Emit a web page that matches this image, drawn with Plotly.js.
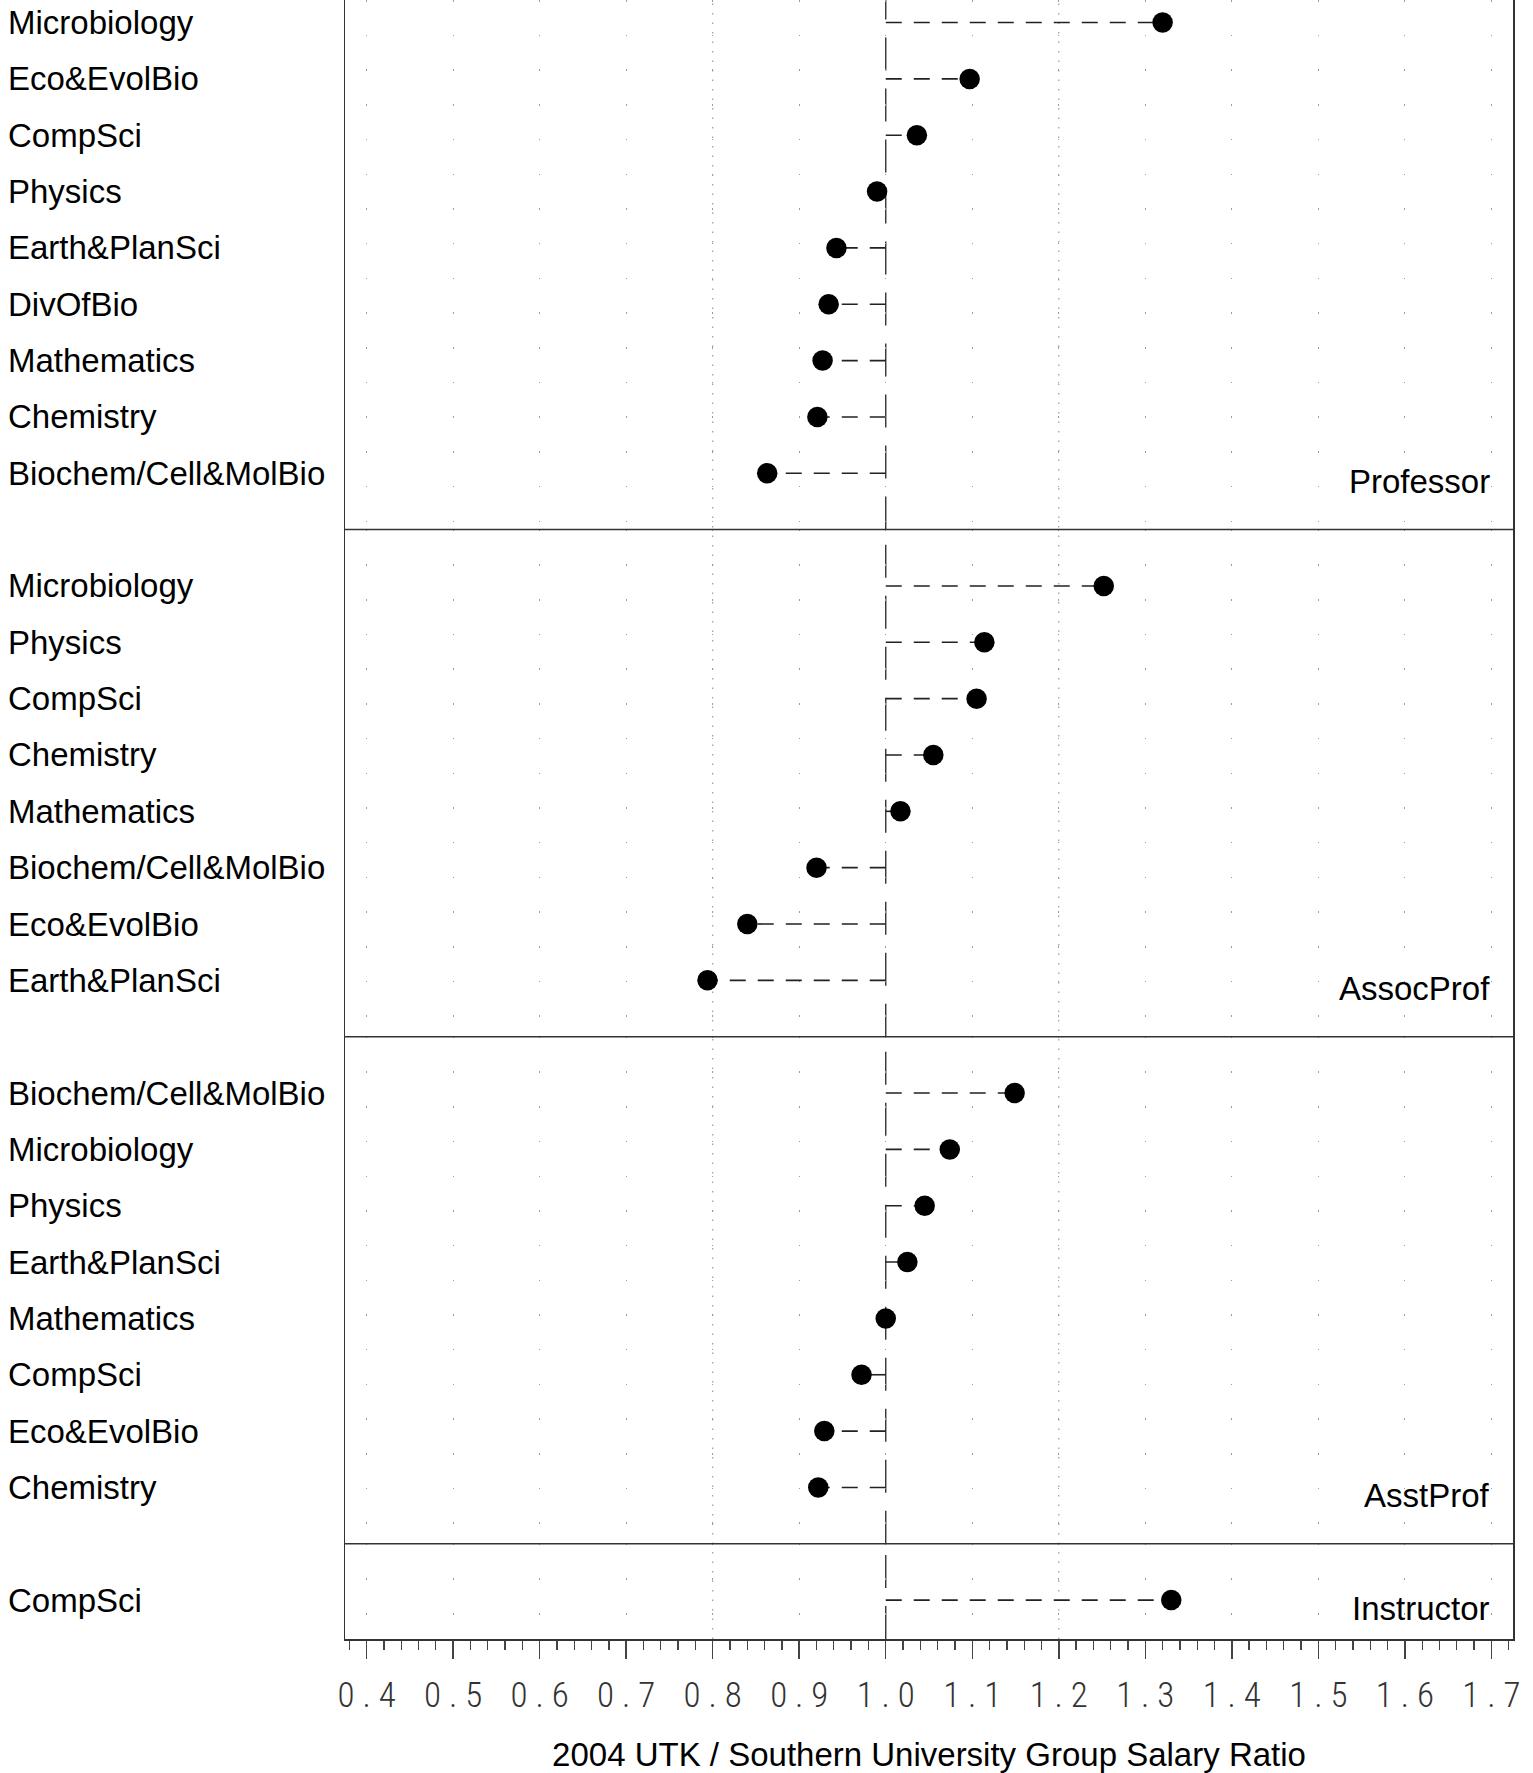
<!DOCTYPE html>
<html>
<head>
<meta charset="utf-8">
<script src="https://cdn.plot.ly/plotly-3.0.1.min.js"></script>
<style>html,body{margin:0;padding:0;background:#fff}</style>
</head>
<body>
<div id="chart" style="width:1533px;height:1773px"></div>
<script>
// ---- data ----
const panelNames = ["Professor", "AssocProf", "AsstProf", "Instructor"];

const professorDepts = ["Microbiology", "Eco&EvolBio", "CompSci", "Physics", "Earth&PlanSci",
  "DivOfBio", "Mathematics", "Chemistry", "Biochem/Cell&MolBio"];
const professorRatio = [1.320, 1.097, 1.036, 0.990, 0.943, 0.934, 0.927, 0.921, 0.863];

const assocProfDepts = ["Microbiology", "Physics", "CompSci", "Chemistry", "Mathematics",
  "Biochem/Cell&MolBio", "Eco&EvolBio", "Earth&PlanSci"];
const assocProfRatio = [1.252, 1.114, 1.105, 1.055, 1.017, 0.920, 0.840, 0.794];

const asstProfDepts = ["Biochem/Cell&MolBio", "Microbiology", "Physics", "Earth&PlanSci",
  "Mathematics", "CompSci", "Eco&EvolBio", "Chemistry"];
const asstProfRatio = [1.149, 1.074, 1.045, 1.025, 1.000, 0.972, 0.929, 0.922];

const instructorDepts = ["CompSci"];
const instructorRatio = [1.330];

const referenceRatio = 1.0;
const xTickValues = [0.4, 0.5, 0.6, 0.7, 0.8, 0.9, 1.0, 1.1, 1.2, 1.3, 1.4, 1.5, 1.6, 1.7];
const xTickLabels = ["0 . 4", "0 . 5", "0 . 6", "0 . 7", "0 . 8", "0 . 9", "1 . 0",
  "1 . 1", "1 . 2", "1 . 3", "1 . 4", "1 . 5", "1 . 6", "1 . 7"];
const xTitle = "2004 UTK / Southern University Group Salary Ratio";

// ---- layout helpers ----
const panels = [
  {name: panelNames[0], depts: professorDepts, ratio: professorRatio, padTop: 0.4, padBottom: 1},
  {name: panelNames[1], depts: assocProfDepts, ratio: assocProfRatio, padTop: 1, padBottom: 1},
  {name: panelNames[2], depts: asstProfDepts, ratio: asstProfRatio, padTop: 1, padBottom: 1},
  {name: panelNames[3], depts: instructorDepts, ratio: instructorRatio, padTop: 1, padBottom: 0.69}
];

const labelFont = {family: "'Liberation Sans', Arial, Helvetica, sans-serif", size: 33, color: "#000"};
const frameColor = "#333";

const units = panels.map(p => p.depts.length - 1 + p.padTop + p.padBottom);
const totalUnits = units.reduce((a, b) => a + b, 0);

const traces = [];
const shapes = [];
const annotations = [];
const layout = {
  width: 1533, height: 1773,
  margin: {l: 345, r: 20, t: 0, b: 134},
  paper_bgcolor: "#fff", plot_bgcolor: "#fff",
  showlegend: false,
  xaxis: {
    anchor: "y4",
    range: [0.375, 1.725],
    tickmode: "array", tickvals: xTickValues, ticktext: xTickLabels,
    ticks: "outside", ticklen: 18, tickwidth: 1.5, tickcolor: "#444",
    ticklabelstandoff: 6,
    minor: {dtick: 0.02, tick0: 0.4, ticks: "outside", ticklen: 9, tickwidth: 1.3, tickcolor: "#444", showgrid: false},
    showgrid: true, gridcolor: "#9a9a9a", gridwidth: 1, griddash: "1.5px,33.2px",
    zeroline: false,
    showline: true, linecolor: frameColor, linewidth: 1.5,
    tickfont: {family: "'Roboto Condensed', 'DejaVu Sans Condensed', 'Liberation Sans Narrow', sans-serif",
               size: 35, color: "#333", weight: 300},
    title: {text: xTitle, font: {family: labelFont.family, size: 33, color: "#000"}, standoff: 62},
    fixedrange: true
  }
};

let topFrac = 1;
panels.forEach((p, k) => {
  const frac = units[k] / totalUnits;
  const domain = [Math.max(0, topFrac - frac), topFrac];
  topFrac -= frac;
  const yName = k === 0 ? "y" : "y" + (k + 1);
  const yKey = k === 0 ? "yaxis" : "yaxis" + (k + 1);
  const n = p.depts.length;
  layout[yKey] = {
    domain: domain,
    anchor: "x",
    type: "category", categoryorder: "array", categoryarray: p.depts,
    range: [n - 1 + p.padBottom, -p.padTop],
    showticklabels: false, ticks: "", showgrid: false, zeroline: false,
    showline: true, mirror: true, linecolor: frameColor, linewidth: 1.5,
    fixedrange: true
  };

  // dashed connectors from the reference ratio to each value
  const lx = [], ly = [];
  p.depts.forEach((d, i) => { lx.push(referenceRatio, p.ratio[i], null); ly.push(d, d, null); });
  traces.push({
    type: "scatter", mode: "lines", x: lx, y: ly, xaxis: "x", yaxis: yName,
    line: {color: "#222", width: 1.6, dash: "16px,12px"}, hoverinfo: "skip"
  });
  traces.push({
    type: "scatter", mode: "markers", x: p.ratio, y: p.depts, xaxis: "x", yaxis: yName,
    marker: {size: 20.5, color: "#000"}
  });

  // reference line at ratio 1.0 (per panel)
  shapes.push({
    type: "line", layer: "below", xref: "x", x0: referenceRatio, x1: referenceRatio,
    yref: yName + " domain", y0: 0, y1: 1,
    line: {color: "#333", width: 1.4, dash: "33px,18px"}
  });

  // panel separator
  if (k < panels.length - 1) {
    shapes.push({
      type: "line", xref: "paper", x0: 0, x1: 1, yref: "paper", y0: domain[0], y1: domain[0],
      line: {color: frameColor, width: 1.5}
    });
  }

  // department labels (left aligned at the figure's left edge)
  p.depts.forEach(d => {
    annotations.push({
      xref: "paper", x: 0, xshift: -339, xanchor: "left",
      yref: yName, y: d, yanchor: "middle", yshift: 0,
      text: d, showarrow: false, font: labelFont
    });
  });

  // panel strip label
  annotations.push({
    xref: "paper", x: 1, xshift: -21, xanchor: "right",
    yref: yName, y: p.depts[n - 1], yanchor: "middle", yshift: -8,
    text: p.name, showarrow: false, font: labelFont
  });
});

// dense dotted reference lines at 0.8 and 1.2
[0.8, 1.2].forEach(v => {
  shapes.push({
    type: "line", layer: "below", xref: "x", x0: v, x1: v, yref: "paper", y0: 0, y1: 1,
    line: {color: "#9a9a9a", width: 1.2, dash: "1.5px,8px"}
  });
});

layout.shapes = shapes;
layout.annotations = annotations;

Plotly.newPlot("chart", traces, layout, {staticPlot: true, displayModeBar: false});
</script>
</body>
</html>
